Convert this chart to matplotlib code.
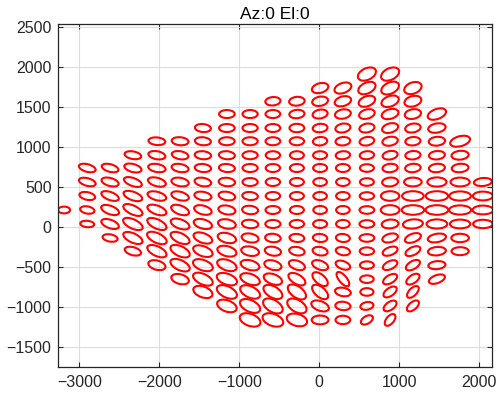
"""Beam footprint ellipses, Az:0 El:0
"""
import matplotlib
matplotlib.use("Agg")
import matplotlib.pyplot as plt
from matplotlib.patches import Ellipse

plt.rcParams["font.family"] = ["Liberation Sans", "DejaVu Sans"]

################################################################################
# column centres (x) and row centres (y) of the footprint grid
col_x = [-3190, -2900, -2615, -2330, -2030, -1740, -1455, -1155, -865, -580,
         -280, 10, 295, 595, 885, 1170, 1470, 1760, 2045]
row_y = [1910, 1735, 1570, 1410, 1235, 1070, 895, 735, 560, 385, 210, 35,
         -140, -305, -480, -655, -815, -990, -1165]
# first and last row index that holds a footprint, per column
col_top = [10, 7, 7, 6, 5, 5, 4, 3, 3, 2, 2, 1, 1, 0, 0, 1, 3, 5, 8]
col_bottom = [10, 11, 12, 13, 14, 15, 16, 17, 18, 18, 18, 18, 18, 18, 18, 17, 15, 13, 11]

# footprint width / height / tilt, top to bottom, per column
widths = [
  [150],
  [215, 215, 200, 180, 175],
  [215, 220, 230, 235, 230, 190],
  [210, 220, 235, 245, 260, 265, 260, 210],
  [210, 215, 220, 230, 240, 250, 260, 265, 260, 220],
  [210, 210, 215, 220, 225, 235, 245, 255, 260, 260, 225],
  [200, 200, 205, 205, 210, 215, 225, 235, 245, 255, 260, 265, 250],
  [195, 195, 195, 200, 200, 205, 210, 215, 225, 235, 245, 255, 265, 270, 255],
  [190, 190, 190, 190, 190, 190, 195, 200, 205, 215, 225, 240, 255, 265, 270, 270],
  [190, 185, 185, 185, 180, 180, 180, 180, 185, 190, 195, 205, 220, 240, 260, 270, 270],
  [195, 190, 185, 180, 175, 175, 175, 175, 175, 180, 185, 195, 210, 235, 260, 265, 260],
  [210, 200, 190, 185, 180, 175, 175, 170, 170, 170, 175, 180, 190, 210, 230, 240, 230, 210],
  [220, 210, 200, 190, 185, 180, 175, 170, 170, 170, 170, 175, 180, 190, 220, 200, 190, 185],
  [240, 230, 215, 200, 190, 185, 180, 175, 175, 180, 185, 185, 185, 180, 175, 170, 165, 165, 165],
  [240, 235, 225, 215, 205, 195, 190, 190, 200, 230, 235, 210, 200, 195, 195, 195, 190, 185, 175],
  [225, 215, 205, 195, 190, 190, 195, 220, 270, 280, 250, 210, 200, 195, 190, 185, 180],
  [240, 220, 205, 200, 200, 240, 280, 285, 260, 230, 225, 215, 210],
  [255, 215, 210, 240, 270, 275, 255, 220, 215],
  [225, 250, 260, 245],
]
heights = [
  [85],
  [95, 95, 95, 90, 80],
  [95, 100, 100, 105, 105, 90],
  [95, 100, 100, 105, 110, 115, 115, 100],
  [95, 100, 100, 105, 105, 110, 115, 120, 120, 115],
  [100, 100, 100, 105, 105, 110, 115, 120, 125, 125, 120],
  [100, 100, 100, 100, 105, 105, 110, 115, 120, 125, 130, 130, 135],
  [100, 100, 100, 100, 100, 105, 105, 110, 115, 120, 125, 130, 135, 140, 140],
  [100, 100, 100, 100, 100, 100, 100, 105, 105, 110, 115, 120, 130, 140, 145, 150],
  [105, 100, 100, 100, 100, 100, 100, 100, 100, 100, 105, 110, 115, 125, 140, 150, 150],
  [110, 105, 105, 100, 100, 100, 100, 100, 100, 100, 100, 105, 110, 120, 140, 150, 150],
  [120, 115, 110, 105, 105, 100, 100, 100, 100, 100, 100, 100, 105, 110, 120, 125, 120, 110],
  [125, 120, 115, 110, 105, 100, 100, 100, 100, 100, 100, 100, 100, 100, 95, 105, 105, 105],
  [145, 135, 125, 115, 110, 105, 100, 95, 95, 95, 95, 95, 95, 95, 95, 95, 95, 95, 95],
  [145, 140, 130, 120, 115, 110, 105, 105, 110, 120, 120, 110, 105, 100, 100, 100, 100, 100, 95],
  [140, 130, 120, 110, 105, 105, 105, 110, 120, 120, 115, 105, 100, 100, 100, 95, 95],
  [125, 115, 110, 105, 105, 115, 120, 120, 115, 105, 105, 100, 100],
  [125, 110, 105, 110, 115, 115, 110, 105, 100],
  [100, 110, 110, 105],
]
angles = [
  [0],
  [-15, -15, -12, -10, -5],
  [-15, -15, -20, -20, -20, -10],
  [-10, -15, -20, -20, -25, -25, -25, -15],
  [-5, -10, -10, -15, -15, -20, -25, -25, -25, -15],
  [-5, -10, -10, -10, -15, -20, -20, -25, -25, -25, -15],
  [-5, -5, -5, -5, -10, -10, -15, -15, -20, -20, -20, -25, -20],
  [0, 0, 0, -5, -5, -5, -10, -10, -10, -15, -15, -20, -20, -25, -20],
  [0, 0, 0, 0, 0, 0, -5, -5, -5, -10, -10, -15, -20, -25, -25, -20],
  [5, 0, 0, 0, 0, 0, 0, 0, 0, 0, -5, -10, -15, -20, -30, -30, -20],
  [5, 5, 0, 0, 0, 0, 0, 0, 0, 0, -5, -10, -20, -30, -35, -30, -15],
  [15, 10, 10, 5, 5, 0, 0, 0, 0, 0, 0, -5, -10, -20, -40, -40, -20, 0],
  [20, 15, 10, 10, 5, 5, 0, 0, 0, 0, 0, -5, -10, -20, -50, -10, -5, 0],
  [25, 25, 20, 15, 10, 10, 5, 0, 0, 0, 0, 0, 0, 0, 0, 0, 0, 10, 30],
  [25, 25, 20, 15, 15, 10, 10, 5, 5, 0, 0, 5, 15, 20, 25, 30, 35, 35, 50],
  [20, 15, 10, 10, 5, 5, 5, 0, 0, 0, 5, 20, 25, 30, 35, 45, 40],
  [20, 10, 5, 5, 5, 0, 0, 0, 0, 10, 5, 5, 20],
  [15, 5, 5, 0, 0, 0, 0, 0, 0],
  [5, 0, 0, 0],
]
################################################################################

fig = plt.figure(figsize=(4.99, 3.97), dpi=100)
ax = fig.add_axes([0.1172, 0.0763, 0.8682, 0.862])

for c in range(len(col_x)):
  for k, r in enumerate(range(col_top[c], col_bottom[c] + 1)):
    e = Ellipse((col_x[c], row_y[r]), widths[c][k], heights[c][k],
                angle=angles[c][k], fill=False, edgecolor="red", lw=1.5)
    ax.add_patch(e)

ax.set_xlim(-3260, 2155)
ax.set_ylim(-1750, 2530)
ax.set_xticks([-3000, -2000, -1000, 0, 1000, 2000])
ax.set_yticks([-1500, -1000, -500, 0, 500, 1000, 1500, 2000, 2500])
ax.grid(True, color="#dcdcdc", lw=0.8)
ax.set_axisbelow(True)
ax.tick_params(direction="in", top=True, right=True, labelsize=11.5,
               colors="#262626", length=3.5)
ax.tick_params(axis="x", pad=6)
ax.tick_params(axis="y", pad=5)
for s in ax.spines.values():
  s.set_color("#262626")
  s.set_linewidth(0.9)

ax.set_title("Az:0 El:0", fontsize=12.5, color="#000000", pad=4)

plt.savefig("out.png", dpi=100)
